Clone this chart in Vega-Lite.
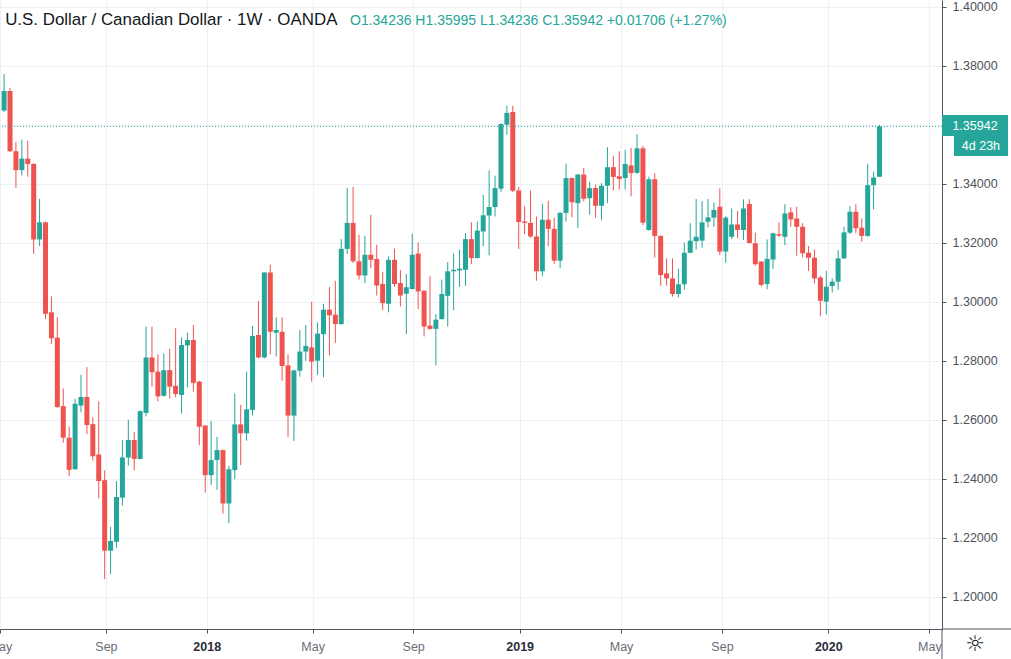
{
  "$schema": "https://vega.github.io/schema/vega-lite/v6.json",
  "width": 942,
  "height": 629,
  "autosize": {"type": "none"},
  "padding": {"left": 0, "top": 0, "right": 69, "bottom": 30},
  "background": "#ffffff",
  "config": {"view": {"stroke": null}, "axis": {"title": null}},
  "data": {"values": [
    {"date":"2017-05-08","open":1.3648,"high":1.3772,"low":1.3643,"close":1.3714},
    {"date":"2017-05-15","open":1.3714,"high":1.3724,"low":1.3508,"close":1.3510},
    {"date":"2017-05-22","open":1.3510,"high":1.3541,"low":1.3386,"close":1.3446},
    {"date":"2017-05-29","open":1.3446,"high":1.3549,"low":1.3428,"close":1.3485},
    {"date":"2017-06-05","open":1.3485,"high":1.3545,"low":1.3424,"close":1.3467},
    {"date":"2017-06-12","open":1.3467,"high":1.3470,"low":1.3162,"close":1.3211},
    {"date":"2017-06-19","open":1.3211,"high":1.3349,"low":1.3189,"close":1.3269},
    {"date":"2017-06-26","open":1.3269,"high":1.3272,"low":1.2941,"close":1.2959},
    {"date":"2017-07-03","open":1.2964,"high":1.3018,"low":1.2857,"close":1.2876},
    {"date":"2017-07-10","open":1.2878,"high":1.2947,"low":1.2640,"close":1.2643},
    {"date":"2017-07-17","open":1.2646,"high":1.2706,"low":1.2522,"close":1.2539},
    {"date":"2017-07-24","open":1.2539,"high":1.2577,"low":1.2409,"close":1.2430},
    {"date":"2017-07-31","open":1.2432,"high":1.2671,"low":1.2430,"close":1.2654},
    {"date":"2017-08-07","open":1.2648,"high":1.2752,"low":1.2625,"close":1.2677},
    {"date":"2017-08-14","open":1.2677,"high":1.2778,"low":1.2551,"close":1.2582},
    {"date":"2017-08-21","open":1.2585,"high":1.2608,"low":1.2461,"close":1.2476},
    {"date":"2017-08-28","open":1.2482,"high":1.2662,"low":1.2334,"close":1.2392},
    {"date":"2017-09-04","open":1.2395,"high":1.2428,"low":1.2060,"close":1.2156},
    {"date":"2017-09-11","open":1.2156,"high":1.2237,"low":1.2076,"close":1.2189},
    {"date":"2017-09-18","open":1.2186,"high":1.2392,"low":1.2166,"close":1.2338},
    {"date":"2017-09-25","open":1.2336,"high":1.2531,"low":1.2309,"close":1.2472},
    {"date":"2017-10-02","open":1.2472,"high":1.2600,"low":1.2444,"close":1.2531},
    {"date":"2017-10-09","open":1.2531,"high":1.2559,"low":1.2428,"close":1.2467},
    {"date":"2017-10-16","open":1.2467,"high":1.2632,"low":1.2465,"close":1.2629},
    {"date":"2017-10-23","open":1.2623,"high":1.2916,"low":1.2611,"close":1.2811},
    {"date":"2017-10-30","open":1.2811,"high":1.2916,"low":1.2712,"close":1.2761},
    {"date":"2017-11-06","open":1.2763,"high":1.2821,"low":1.2662,"close":1.2679},
    {"date":"2017-11-13","open":1.2681,"high":1.2825,"low":1.2678,"close":1.2768},
    {"date":"2017-11-20","open":1.2768,"high":1.2840,"low":1.2672,"close":1.2712},
    {"date":"2017-11-27","open":1.2715,"high":1.2910,"low":1.2676,"close":1.2687},
    {"date":"2017-12-04","open":1.2684,"high":1.2879,"low":1.2621,"close":1.2853},
    {"date":"2017-12-11","open":1.2852,"high":1.2895,"low":1.2710,"close":1.2870},
    {"date":"2017-12-18","open":1.2870,"high":1.2921,"low":1.2695,"close":1.2725},
    {"date":"2017-12-25","open":1.2729,"high":1.2732,"low":1.2514,"close":1.2576},
    {"date":"2018-01-01","open":1.2580,"high":1.2582,"low":1.2353,"close":1.2412},
    {"date":"2018-01-08","open":1.2412,"high":1.2595,"low":1.2379,"close":1.2463},
    {"date":"2018-01-15","open":1.2463,"high":1.2542,"low":1.2362,"close":1.2497},
    {"date":"2018-01-22","open":1.2497,"high":1.2499,"low":1.2282,"close":1.2316},
    {"date":"2018-01-29","open":1.2316,"high":1.2443,"low":1.2249,"close":1.2432},
    {"date":"2018-02-05","open":1.2429,"high":1.2689,"low":1.2398,"close":1.2584},
    {"date":"2018-02-12","open":1.2584,"high":1.2650,"low":1.2446,"close":1.2554},
    {"date":"2018-02-19","open":1.2554,"high":1.2763,"low":1.2529,"close":1.2635},
    {"date":"2018-02-26","open":1.2633,"high":1.2918,"low":1.2614,"close":1.2884},
    {"date":"2018-03-05","open":1.2887,"high":1.3002,"low":1.2808,"close":1.2811},
    {"date":"2018-03-12","open":1.2811,"high":1.3100,"low":1.2808,"close":1.3099},
    {"date":"2018-03-19","open":1.3099,"high":1.3125,"low":1.2821,"close":1.2898},
    {"date":"2018-03-26","open":1.2895,"high":1.2947,"low":1.2814,"close":1.2904},
    {"date":"2018-04-02","open":1.2898,"high":1.2947,"low":1.2732,"close":1.2782},
    {"date":"2018-04-09","open":1.2784,"high":1.2821,"low":1.2542,"close":1.2614},
    {"date":"2018-04-16","open":1.2614,"high":1.2770,"low":1.2528,"close":1.2767},
    {"date":"2018-04-23","open":1.2766,"high":1.2904,"low":1.2746,"close":1.2831},
    {"date":"2018-04-30","open":1.2831,"high":1.2921,"low":1.2800,"close":1.2850},
    {"date":"2018-05-07","open":1.2845,"high":1.3000,"low":1.2729,"close":1.2797},
    {"date":"2018-05-14","open":1.2800,"high":1.2930,"low":1.2752,"close":1.2892},
    {"date":"2018-05-21","open":1.2890,"high":1.2993,"low":1.2744,"close":1.2973},
    {"date":"2018-05-28","open":1.2973,"high":1.3050,"low":1.2818,"close":1.2954},
    {"date":"2018-06-04","open":1.2956,"high":1.3071,"low":1.2860,"close":1.2924},
    {"date":"2018-06-11","open":1.2924,"high":1.3212,"low":1.2922,"close":1.3179},
    {"date":"2018-06-18","open":1.3179,"high":1.3385,"low":1.3162,"close":1.3267},
    {"date":"2018-06-25","open":1.3267,"high":1.3389,"low":1.3131,"close":1.3137},
    {"date":"2018-07-02","open":1.3137,"high":1.3227,"low":1.3075,"close":1.3089},
    {"date":"2018-07-09","open":1.3089,"high":1.3224,"low":1.3063,"close":1.3159},
    {"date":"2018-07-16","open":1.3159,"high":1.3295,"low":1.3114,"close":1.3142},
    {"date":"2018-07-23","open":1.3145,"high":1.3193,"low":1.3021,"close":1.3055},
    {"date":"2018-07-30","open":1.3060,"high":1.3101,"low":1.2971,"close":1.2995},
    {"date":"2018-08-06","open":1.2993,"high":1.3154,"low":1.2964,"close":1.3142},
    {"date":"2018-08-13","open":1.3142,"high":1.3180,"low":1.3050,"close":1.3060},
    {"date":"2018-08-20","open":1.3063,"high":1.3108,"low":1.2984,"close":1.3021},
    {"date":"2018-08-27","open":1.3027,"high":1.3094,"low":1.2890,"close":1.3049},
    {"date":"2018-09-03","open":1.3043,"high":1.3231,"low":1.3041,"close":1.3159},
    {"date":"2018-09-10","open":1.3163,"high":1.3201,"low":1.2975,"close":1.3035},
    {"date":"2018-09-17","open":1.3037,"high":1.3039,"low":1.2882,"close":1.2916},
    {"date":"2018-09-24","open":1.2919,"high":1.3086,"low":1.2905,"close":1.2908},
    {"date":"2018-10-01","open":1.2908,"high":1.2958,"low":1.2784,"close":1.2939},
    {"date":"2018-10-08","open":1.2941,"high":1.3075,"low":1.2939,"close":1.3026},
    {"date":"2018-10-15","open":1.3020,"high":1.3134,"low":1.2916,"close":1.3103},
    {"date":"2018-10-22","open":1.3103,"high":1.3163,"low":1.2971,"close":1.3108},
    {"date":"2018-10-29","open":1.3106,"high":1.3176,"low":1.3050,"close":1.3112},
    {"date":"2018-11-05","open":1.3108,"high":1.3233,"low":1.3054,"close":1.3212},
    {"date":"2018-11-12","open":1.3212,"high":1.3269,"low":1.3128,"close":1.3148},
    {"date":"2018-11-19","open":1.3148,"high":1.3272,"low":1.3146,"close":1.3241},
    {"date":"2018-11-26","open":1.3238,"high":1.3363,"low":1.3188,"close":1.3293},
    {"date":"2018-12-03","open":1.3292,"high":1.3445,"low":1.3157,"close":1.3321},
    {"date":"2018-12-10","open":1.3321,"high":1.3427,"low":1.3289,"close":1.3385},
    {"date":"2018-12-17","open":1.3383,"high":1.3605,"low":1.3372,"close":1.3602},
    {"date":"2018-12-24","open":1.3600,"high":1.3664,"low":1.3566,"close":1.3640},
    {"date":"2018-12-31","open":1.3643,"high":1.3664,"low":1.3372,"close":1.3376},
    {"date":"2019-01-07","open":1.3377,"high":1.3389,"low":1.3179,"close":1.3270},
    {"date":"2019-01-14","open":1.3272,"high":1.3323,"low":1.3229,"close":1.3267},
    {"date":"2019-01-21","open":1.3267,"high":1.3377,"low":1.3216,"close":1.3221},
    {"date":"2019-01-28","open":1.3221,"high":1.3289,"low":1.3071,"close":1.3103},
    {"date":"2019-02-04","open":1.3103,"high":1.3331,"low":1.3086,"close":1.3278},
    {"date":"2019-02-11","open":1.3278,"high":1.3342,"low":1.3188,"close":1.3247},
    {"date":"2019-02-18","open":1.3247,"high":1.3284,"low":1.3128,"close":1.3139},
    {"date":"2019-02-25","open":1.3139,"high":1.3304,"low":1.3114,"close":1.3301},
    {"date":"2019-03-04","open":1.3301,"high":1.3468,"low":1.3272,"close":1.3419},
    {"date":"2019-03-11","open":1.3419,"high":1.3421,"low":1.3286,"close":1.3337},
    {"date":"2019-03-18","open":1.3334,"high":1.3433,"low":1.3250,"close":1.3431},
    {"date":"2019-03-25","open":1.3431,"high":1.3453,"low":1.3340,"close":1.3349},
    {"date":"2019-04-01","open":1.3351,"high":1.3406,"low":1.3295,"close":1.3385},
    {"date":"2019-04-08","open":1.3385,"high":1.3397,"low":1.3284,"close":1.3325},
    {"date":"2019-04-15","open":1.3325,"high":1.3402,"low":1.3276,"close":1.3393},
    {"date":"2019-04-22","open":1.3393,"high":1.3524,"low":1.3334,"close":1.3456},
    {"date":"2019-04-29","open":1.3456,"high":1.3495,"low":1.3377,"close":1.3423},
    {"date":"2019-05-06","open":1.3425,"high":1.3510,"low":1.3380,"close":1.3416},
    {"date":"2019-05-13","open":1.3419,"high":1.3515,"low":1.3380,"close":1.3467},
    {"date":"2019-05-20","open":1.3462,"high":1.3521,"low":1.3357,"close":1.3436},
    {"date":"2019-05-27","open":1.3437,"high":1.3568,"low":1.3433,"close":1.3520},
    {"date":"2019-06-03","open":1.3520,"high":1.3528,"low":1.3260,"close":1.3268},
    {"date":"2019-06-10","open":1.3243,"high":1.3424,"low":1.3241,"close":1.3415},
    {"date":"2019-06-17","open":1.3415,"high":1.3435,"low":1.3150,"close":1.3223},
    {"date":"2019-06-24","open":1.3223,"high":1.3225,"low":1.3054,"close":1.3090},
    {"date":"2019-07-01","open":1.3096,"high":1.3147,"low":1.3054,"close":1.3079},
    {"date":"2019-07-08","open":1.3079,"high":1.3147,"low":1.3017,"close":1.3026},
    {"date":"2019-07-15","open":1.3026,"high":1.3111,"low":1.3014,"close":1.3059},
    {"date":"2019-07-22","open":1.3059,"high":1.3200,"low":1.3040,"close":1.3166},
    {"date":"2019-07-29","open":1.3166,"high":1.3266,"low":1.3164,"close":1.3207},
    {"date":"2019-08-05","open":1.3205,"high":1.3348,"low":1.3177,"close":1.3220},
    {"date":"2019-08-12","open":1.3207,"high":1.3341,"low":1.3183,"close":1.3269},
    {"date":"2019-08-19","open":1.3271,"high":1.3348,"low":1.3252,"close":1.3286},
    {"date":"2019-08-26","open":1.3285,"high":1.3336,"low":1.3254,"close":1.3311},
    {"date":"2019-09-02","open":1.3322,"high":1.3384,"low":1.3158,"close":1.3170},
    {"date":"2019-09-09","open":1.3170,"high":1.3290,"low":1.3132,"close":1.3285},
    {"date":"2019-09-16","open":1.3220,"high":1.3316,"low":1.3212,"close":1.3262},
    {"date":"2019-09-23","open":1.3262,"high":1.3307,"low":1.3215,"close":1.3243},
    {"date":"2019-09-30","open":1.3243,"high":1.3347,"low":1.3209,"close":1.3316},
    {"date":"2019-10-07","open":1.3331,"high":1.3347,"low":1.3198,"close":1.3199},
    {"date":"2019-10-14","open":1.3198,"high":1.3234,"low":1.3122,"close":1.3127},
    {"date":"2019-10-21","open":1.3136,"high":1.3137,"low":1.3051,"close":1.3057},
    {"date":"2019-10-28","open":1.3060,"high":1.3211,"low":1.3042,"close":1.3145},
    {"date":"2019-11-04","open":1.3143,"high":1.3234,"low":1.3111,"close":1.3232},
    {"date":"2019-11-11","open":1.3229,"high":1.3269,"low":1.3220,"close":1.3224},
    {"date":"2019-11-18","open":1.3220,"high":1.3331,"low":1.3192,"close":1.3299},
    {"date":"2019-11-25","open":1.3303,"high":1.3320,"low":1.3254,"close":1.3279},
    {"date":"2019-12-02","open":1.3282,"high":1.3322,"low":1.3156,"close":1.3254},
    {"date":"2019-12-09","open":1.3254,"high":1.3266,"low":1.3150,"close":1.3164},
    {"date":"2019-12-16","open":1.3166,"high":1.3189,"low":1.3104,"close":1.3149},
    {"date":"2019-12-23","open":1.3149,"high":1.3177,"low":1.3062,"close":1.3079},
    {"date":"2019-12-30","open":1.3082,"high":1.3088,"low":1.2951,"close":1.3003},
    {"date":"2020-01-06","open":1.3000,"high":1.3105,"low":1.2957,"close":1.3051},
    {"date":"2020-01-13","open":1.3053,"high":1.3079,"low":1.3031,"close":1.3068},
    {"date":"2020-01-20","open":1.3068,"high":1.3175,"low":1.3040,"close":1.3147},
    {"date":"2020-01-27","open":1.3147,"high":1.3254,"low":1.3145,"close":1.3235},
    {"date":"2020-02-03","open":1.3234,"high":1.3324,"low":1.3229,"close":1.3305},
    {"date":"2020-02-10","open":1.3305,"high":1.3330,"low":1.3232,"close":1.3249},
    {"date":"2020-02-17","open":1.3251,"high":1.3282,"low":1.3203,"close":1.3223},
    {"date":"2020-02-24","open":1.3223,"high":1.3467,"low":1.3220,"close":1.3395},
    {"date":"2020-03-02","open":1.3395,"high":1.3441,"low":1.3313,"close":1.3421},
    {"date":"2020-03-09","open":1.34236,"high":1.35995,"low":1.34236,"close":1.35942}
  ]},
  "layer": [
    {
      "mark": {"type": "rule", "strokeWidth": 1},
      "encoding": {
        "x": {
          "field": "date", "type": "temporal",
          "scale": {"type": "utc", "padding": 0, "domain": [
            {"year": 2017, "month": 5, "date": 3, "hours": 3, "minutes": 27, "utc": true},
            {"year": 2020, "month": 5, "date": 21, "hours": 22, "minutes": 39, "utc": true}
          ]},
          "axis": {
            "values": [
              {"year": 2017, "month": 5, "date": 3, "hours": 4, "utc": true},
              {"year": 2017, "month": 9, "date": 5, "hours": 12, "utc": true},
              {"year": 2018, "month": 1, "date": 2, "hours": 18, "utc": true},
              {"year": 2018, "month": 5, "date": 8, "hours": 2, "utc": true},
              {"year": 2018, "month": 9, "date": 4, "hours": 3, "utc": true},
              {"year": 2019, "month": 1, "date": 8, "hours": 3, "utc": true},
              {"year": 2019, "month": 5, "date": 8, "hours": 3, "utc": true},
              {"year": 2019, "month": 9, "date": 4, "hours": 14, "utc": true},
              {"year": 2020, "month": 1, "date": 8, "hours": 9, "utc": true},
              {"year": 2020, "month": 5, "date": 7, "hours": 0, "utc": true}
            ],
            "labelExpr": "utcmonth(datum.value) == 0 ? utcFormat(datum.value, '%Y') : utcFormat(datum.value, '%b')",
            "grid": true, "gridColor": "#edf0f5", "gridWidth": 1,
            "domainColor": "#50535e", "tickColor": "#50535e", "tickSize": 4,
            "labelPadding": 7, "labelFont": "Liberation Sans", "labelFontSize": 12.5,
            "labelColor": {"condition": {"test": "utcmonth(datum.value) == 0", "value": "#2a2e39"}, "value": "#6a6d78"},
            "labelFontWeight": {"condition": {"test": "utcmonth(datum.value) == 0", "value": "bold"}, "value": "normal"},
            "labelFlush": false, "labelOverlap": false, "labelBound": false, "title": null
          }
        },
        "y": {
          "field": "low", "type": "quantitative",
          "scale": {"domain": [1.18905, 1.40227], "zero": false, "nice": false, "padding": 0},
          "axis": {
            "orient": "right",
            "values": [1.2, 1.22, 1.24, 1.26, 1.28, 1.3, 1.32, 1.34, 1.36, 1.38, 1.4],
            "labelExpr": "abs(datum.value - 1.36) < 0.001 ? '' : format(datum.value, '.5f')",
            "grid": true, "gridColor": "#edf0f5", "gridWidth": 1,
            "domainColor": "#50535e", "tickColor": "#50535e", "tickSize": 4,
            "labelPadding": 6, "labelFont": "Liberation Sans", "labelFontSize": 12.5,
            "labelColor": "#4c525e", "labelFlush": false, "labelOverlap": false, "title": null
          }
        },
        "y2": {"field": "high"},
        "color": {"condition": {"test": "datum.close >= datum.open", "value": "#26a69a"}, "value": "#ef5350"}
      }
    },
    {
      "mark": {"type": "bar", "size": 5},
      "encoding": {
        "x": {"field": "date", "type": "temporal"},
        "y": {"field": "open", "type": "quantitative"},
        "y2": {"field": "close"},
        "color": {"condition": {"test": "datum.close >= datum.open", "value": "#26a69a"}, "value": "#ef5350"}
      }
    },
    {
      "data": {"values": [{}]},
      "mark": {"type": "rule", "color": "#26a69a", "strokeWidth": 1, "strokeDash": [1, 2]},
      "encoding": {"y": {"datum": 1.35942, "type": "quantitative"}}
    },
    {
      "data": {"values": [{}]},
      "mark": {"type": "text", "align": "left", "baseline": "middle", "font": "Liberation Sans", "fontSize": 16.9, "color": "#131722", "text": "U.S. Dollar / Canadian Dollar · 1W · OANDA"},
      "encoding": {
        "x": {"datum": {"year": 2017, "month": 5, "date": 9, "hours": 6, "utc": true}, "type": "temporal"},
        "y": {"datum": 1.39549, "type": "quantitative"}
      }
    },
    {
      "data": {"values": [{}]},
      "mark": {"type": "text", "align": "left", "baseline": "middle", "font": "Liberation Sans", "fontSize": 14, "color": "#26a69a", "text": "O1.34236  H1.35995  L1.34236  C1.35942  +0.01706 (+1.27%)"},
      "encoding": {
        "x": {"datum": {"year": 2018, "month": 6, "date": 21, "hours": 8, "utc": true}, "type": "temporal"},
        "y": {"datum": 1.39515, "type": "quantitative"}
      }
    },
    {
      "data": {"values": [{}]},
      "mark": {"type": "rect", "color": "#26a69a"},
      "encoding": {
        "x": {"datum": {"year": 2020, "month": 5, "date": 21, "hours": 23, "utc": true}, "type": "temporal"},
        "x2": {"datum": {"year": 2020, "month": 8, "date": 8, "hours": 1, "utc": true}},
        "y": {"datum": 1.36329, "type": "quantitative"},
        "y2": {"datum": 1.35617}
      }
    },
    {
      "data": {"values": [{}]},
      "mark": {"type": "rect", "color": "#26a69a"},
      "encoding": {
        "x": {"datum": {"year": 2020, "month": 6, "date": 5, "hours": 3, "utc": true}, "type": "temporal"},
        "x2": {"datum": {"year": 2020, "month": 8, "date": 8, "hours": 1, "utc": true}},
        "y": {"datum": 1.35617, "type": "quantitative"},
        "y2": {"datum": 1.34939}
      }
    },
    {
      "data": {"values": [{}]},
      "mark": {"type": "text", "align": "center", "baseline": "middle", "font": "Liberation Sans", "fontSize": 12.5, "color": "#ffffff", "text": "1.35942"},
      "encoding": {
        "x": {"datum": {"year": 2020, "month": 6, "date": 30, "utc": true}, "type": "temporal"},
        "y": {"datum": 1.3597, "type": "quantitative"}
      }
    },
    {
      "data": {"values": [{}]},
      "mark": {"type": "text", "align": "center", "baseline": "middle", "font": "Liberation Sans", "fontSize": 12.5, "color": "#ffffff", "text": "4d 23h"},
      "encoding": {
        "x": {"datum": {"year": 2020, "month": 7, "date": 7, "utc": true}, "type": "temporal"},
        "y": {"datum": 1.35278, "type": "quantitative"}
      }
    },
    {
      "data": {"values": [{}]},
      "mark": {"type": "rule", "color": "#50535e", "strokeWidth": 1},
      "encoding": {
        "x": {"datum": {"year": 2020, "month": 5, "date": 21, "hours": 22, "minutes": 39, "utc": true}, "type": "temporal"},
        "y": {"datum": 1.18905, "type": "quantitative"},
        "y2": {"datum": 1.178}
      }
    },
    {
      "data": {"values": [{}]},
      "mark": {"type": "rule", "color": "#50535e", "strokeWidth": 1},
      "encoding": {
        "x": {"datum": {"year": 2020, "month": 5, "date": 21, "hours": 22, "minutes": 39, "utc": true}, "type": "temporal"},
        "x2": {"datum": {"year": 2020, "month": 8, "date": 25, "utc": true}},
        "y": {"datum": 1.18905, "type": "quantitative"}
      }
    },
    {
      "data": {"values": [{}]},
      "mark": {"type": "text", "align": "center", "baseline": "middle", "font": "DejaVu Sans", "fontSize": 22, "color": "#131722", "text": "☼"},
      "encoding": {
        "x": {"datum": {"year": 2020, "month": 6, "date": 30, "utc": true}, "type": "temporal"},
        "y": {"datum": 1.18397, "type": "quantitative"}
      }
    }
  ]
}
